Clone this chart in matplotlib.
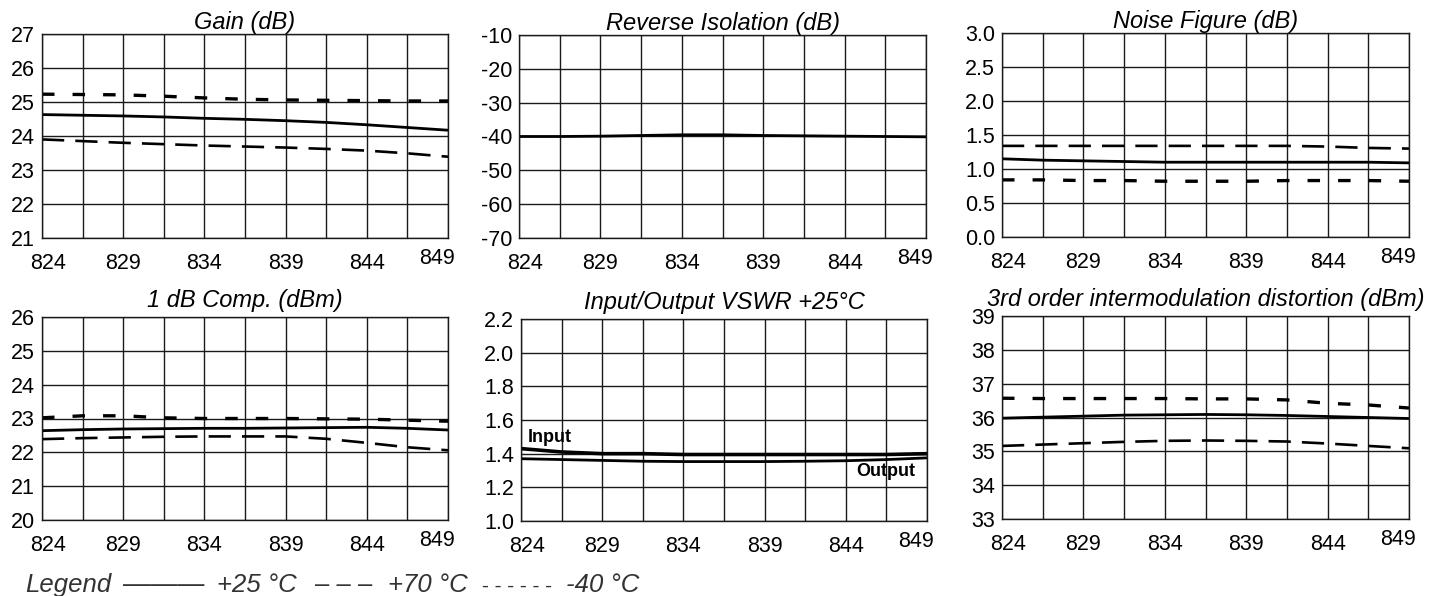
import numpy as np
import matplotlib
matplotlib.use('Agg')
import matplotlib.pyplot as plt
import matplotlib.transforms as mtransforms

plt.rcParams['font.family'] = ['Liberation Sans', 'DejaVu Sans']
plt.rcParams['lines.scale_dashes'] = False

# frequency points (MHz), one per grid column
freq = [824, 826.5, 829, 831.5, 834, 836.5, 839, 841.5, 844, 846.5, 849]

gain_25 = [24.63, 24.61, 24.59, 24.56, 24.52, 24.49, 24.45, 24.40, 24.33, 24.25, 24.17]
gain_70 = [23.90, 23.85, 23.80, 23.76, 23.72, 23.69, 23.66, 23.62, 23.57, 23.49, 23.39]
gain_m40 = [25.23, 25.22, 25.21, 25.17, 25.12, 25.08, 25.06, 25.05, 25.04, 25.03, 25.03]

iso_25 = [-40.0, -40.0, -39.9, -39.7, -39.5, -39.5, -39.7, -39.8, -39.9, -40.0, -40.1]

nf_25 = [1.15, 1.13, 1.12, 1.11, 1.10, 1.10, 1.10, 1.10, 1.10, 1.10, 1.09]
nf_70 = [1.34, 1.34, 1.34, 1.34, 1.34, 1.34, 1.34, 1.34, 1.33, 1.31, 1.30]
nf_m40 = [0.84, 0.84, 0.83, 0.83, 0.82, 0.82, 0.82, 0.83, 0.83, 0.83, 0.82]

p1db_25 = [22.64, 22.67, 22.69, 22.70, 22.71, 22.71, 22.72, 22.73, 22.74, 22.71, 22.66]
p1db_70 = [22.39, 22.42, 22.44, 22.46, 22.47, 22.47, 22.47, 22.40, 22.28, 22.15, 22.06]
p1db_m40 = [23.02, 23.08, 23.08, 23.02, 23.00, 23.00, 23.00, 22.99, 22.98, 22.95, 22.92]

vswr_in = [1.43, 1.41, 1.40, 1.40, 1.395, 1.395, 1.395, 1.395, 1.395, 1.395, 1.40]
vswr_out = [1.37, 1.365, 1.36, 1.355, 1.353, 1.353, 1.353, 1.355, 1.358, 1.365, 1.375]

imd_25 = [35.98, 36.01, 36.04, 36.07, 36.08, 36.09, 36.08, 36.06, 36.03, 36.00, 35.97]
imd_70 = [35.16, 35.20, 35.24, 35.28, 35.31, 35.32, 35.31, 35.29, 35.23, 35.16, 35.09]
imd_m40 = [36.57, 36.56, 36.56, 36.56, 36.56, 36.55, 36.55, 36.52, 36.42, 36.37, 36.28]

titles = ['Gain (dB)', 'Reverse Isolation (dB)', 'Noise Figure (dB)',
          '1 dB Comp. (dBm)', 'Input/Output VSWR +25°C',
          '3rd order intermodulation distortion (dBm)']

fig = plt.figure(figsize=(14.44, 5.96), dpi=100, facecolor='white')
W, H = 1444.0, 596.0

# axes boxes in pixels: left, top, right, bottom
boxes = [(42, 34, 448, 238), (519, 35, 926, 238), (1002, 33, 1409, 237),
         (42, 317, 448, 520), (521, 319, 927, 521), (1002, 316, 1409, 519)]

axes = []
for (l, t, r, b) in boxes:
    ax = fig.add_axes([l / W, 1 - b / H, (r - l) / W, (b - t) / H])
    axes.append(ax)

solid = dict(color='black', lw=2.0, solid_capstyle='butt')
dash70 = dict(color='black', lw=1.9, dashes=(16, 8))
dot40 = dict(color='black', lw=2.4, dashes=(9, 13))


def setup(ax, title, yticks, fmt, pad):
    ax.set_xlim(824, 849)
    ax.set_ylim(yticks[0], yticks[-1])
    ax.set_xticks(np.arange(824, 850, 5))
    ax.set_xticks(np.arange(826.5, 849, 5), minor=True)
    ax.set_yticks(yticks)
    ax.set_yticklabels([fmt % v for v in yticks])
    ax.set_axisbelow(True)
    ax.grid(True, which='both', color='#1a1a1a', lw=1.0)
    ax.tick_params(which='both', length=0, labelsize=15.5)
    ax.tick_params(axis='x', pad=11)
    ax.tick_params(axis='y', pad=5)
    for s in ax.spines.values():
        s.set_linewidth(1.0)
        s.set_color('#1a1a1a')
    ax.set_title(title, fontsize=17, style='italic', pad=pad)
    # nudge first/last frequency labels like the datasheet
    labs = ax.get_xticklabels()
    labs[0].set_transform(labs[0].get_transform() +
                          mtransforms.ScaledTranslation(0.06, 0, fig.dpi_scale_trans))
    labs[-1].set_transform(labs[-1].get_transform() +
                           mtransforms.ScaledTranslation(-0.11, 0.05, fig.dpi_scale_trans))


setup(axes[0], titles[0], [21, 22, 23, 24, 25, 26, 27], '%d', 3)
axes[0].plot(freq, gain_m40, **dot40)
axes[0].plot(freq, gain_70, **dash70)
axes[0].plot(freq, gain_25, **solid)

setup(axes[1], titles[1], [-70, -60, -50, -40, -30, -20, -10], '%d', 3)
axes[1].plot(freq, iso_25, **solid)

setup(axes[2], titles[2], [0.0, 0.5, 1.0, 1.5, 2.0, 2.5, 3.0], '%.1f', 3)
axes[2].plot(freq, nf_m40, **dot40)
axes[2].plot(freq, nf_70, **dash70)
axes[2].plot(freq, nf_25, **solid)

setup(axes[3], titles[3], [20, 21, 22, 23, 24, 25, 26], '%d', 7)
axes[3].plot(freq, p1db_m40, **dot40)
axes[3].plot(freq, p1db_70, **dash70)
axes[3].plot(freq, p1db_25, **solid)

setup(axes[4], titles[4], [1.0, 1.2, 1.4, 1.6, 1.8, 2.0, 2.2], '%.1f', 7)
axes[4].plot(freq, vswr_out, **solid)
axes[4].plot(freq, vswr_in, color='black', lw=2.6)
axes[4].text(824.4, 1.47, 'Input', fontsize=13, fontweight='bold', ha='left', va='baseline')
axes[4].text(848.3, 1.27, 'Output', fontsize=13, fontweight='bold', ha='right', va='baseline')

setup(axes[5], titles[5], [33, 34, 35, 36, 37, 38, 39], '%d', 7)
axes[5].plot(freq, imd_m40, **dot40)
axes[5].plot(freq, imd_70, **dash70)
axes[5].plot(freq, imd_25, **solid)

# legend line along the bottom, written as text
ly = 1 - 592 / H
lc = '#333333'
fig.text(25 / W, ly, 'Legend', fontsize=18.5, style='italic', color=lc, va='baseline')
fig.text(123 / W, ly, '———', fontsize=19.5, color=lc, va='baseline')
fig.text(217 / W, ly, '+25 °C', fontsize=18.5, style='italic', color=lc, va='baseline')
fig.text(315 / W, ly, '– – –', fontsize=18.5, color=lc, va='baseline')
fig.text(388 / W, ly, '+70 °C', fontsize=18.5, style='italic', color=lc, va='baseline')
fig.text(482 / W, ly, '- - - - - -', fontsize=15, color=lc, va='baseline')
fig.text(566 / W, ly, '-40 °C', fontsize=18.5, style='italic', color=lc, va='baseline')

fig.savefig('out.png', dpi=100, facecolor='white')
plt.close('all')
